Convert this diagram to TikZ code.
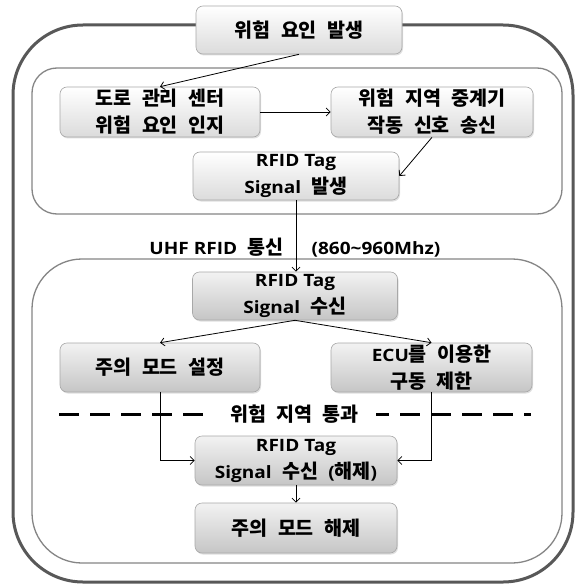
\documentclass[tikz,border=0pt]{standalone}
\usepackage{fontspec}
\setmainfont{Noto Sans CJK KR}[Scale=1.15, WordSpace=2.3]
\newfontfamily\latfont{Open Sans}[FakeStretch=1.12]
\usetikzlibrary{arrows.meta,shadows}
\newcommand\LatTxt[1]{{\latfont #1}}
\definecolor{framedark}{HTML}{585858}
\definecolor{framemid}{HTML}{858585}
\definecolor{boxline}{HTML}{A8A8A8}
\tikzset{
  basebox/.style={draw=boxline, line width=0.6pt, rounded corners=7pt, align=center,
    minimum width=202pt, minimum height=49pt, inner sep=0pt,
    drop shadow={shadow xshift=1pt, shadow yshift=-1.5pt, opacity=0.25, fill=gray}},
  lbox/.style={basebox, top color=white, bottom color=gray!28},
  dbox/.style={basebox, top color=gray!10, bottom color=gray!45},
  outerframe/.style={draw=framedark, line width=3pt, rounded corners=70pt},
  innerframe/.style={draw=framemid, line width=1.3pt},
  arr/.style={draw=black, line width=0.8pt, -{Straight Barb[length=4pt,width=8pt,line width=0.8pt]}},
  dashline/.style={draw=black, line width=3pt, dash pattern=on 20pt off 11pt},
  lbl/.style={inner sep=0pt}
}
\begin{document}
\begin{tikzpicture}[x=1pt,y=-1pt, font=\bfseries\fontsize{17}{27}\selectfont]
\useasboundingbox[fill=white] (0,0) rectangle (581,585);
% frames
\draw[outerframe] (13,25) rectangle (573,582);
\draw[innerframe, rounded corners=25pt] (32,68) rectangle (562,214);
\draw[innerframe, rounded corners=50pt] (32,259) rectangle (562,563);
% boxes
\node[lbox, minimum width=206pt, minimum height=48pt] (top) at (299,30) {위험 요인 발생};
\node[lbox, minimum width=200pt, minimum height=50pt] (doro) at (160,112) {도로 관리 센터\\위험 요인 인지};
\node[lbox, minimum height=50pt] (relay) at (432,112) {위험 지역 중계기\\작동 신호 송신};
\node[lbox, minimum width=206pt, minimum height=48pt] (tx) at (296,176) {\LatTxt{RFID Tag}\\\LatTxt{Signal} 발생};
\node[dbox, minimum width=205pt, minimum height=48pt] (rx) at (295,296) {\LatTxt{RFID Tag}\\\LatTxt{Signal} 수신};
\node[dbox, minimum width=200pt] (caution) at (160,367.5) {주의 모드 설정};
\node[dbox, minimum width=201pt] (ecu) at (431.5,367.5) {\LatTxt{ECU}를 이용한\\구동 제한};
\node[dbox] (rx2) at (296,460.5) {\LatTxt{RFID Tag}\\\LatTxt{Signal} 수신 \LatTxt{(}해제\LatTxt{)}};
\node[dbox, minimum height=50pt] (rel) at (296,528) {주의 모드 해제};
% labels
\node[lbl, anchor=base] (uhf) at (216.5,254) {\LatTxt{UHF RFID} 통신};
\node[lbl, anchor=base] (freq) at (376,254) {\LatTxt{(860\char"7E 960Mhz)}};
% dashed boundary
\coordinate (dl) at (59,414);
\coordinate (dr) at (531,414);
\draw[dashline] (dl) -- (dr);
\node[fill=white, inner xsep=17pt, inner ysep=2pt] (pass) at (294.5,414) {위험 지역 통과};
% connectors
\draw[arr] (top.south) -- (doro.north);
\draw[arr] (doro.east) -- (relay.west);
\draw[arr] (relay.south) -- (tx.east);
\draw[arr] (tx.south) -- (tx.south |- rx.north);
\draw[arr] (rx.south) -- (caution.north);
\draw[arr] (rx.south) -- (ecu.north);
\draw[arr] (caution.south) |- (rx2.west);
\draw[arr] (ecu.south) |- (rx2.east);
\draw[arr] (rx2.south) -- (rel.north);
\end{tikzpicture}
\end{document}
